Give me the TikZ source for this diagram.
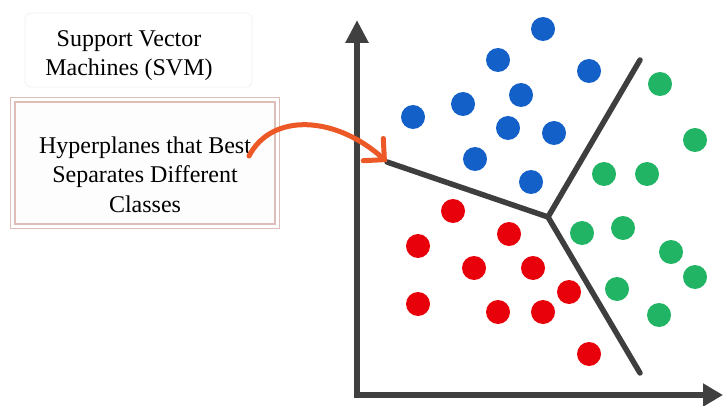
\documentclass[tikz,border=0pt]{standalone}
\usepackage{fontspec}
\setmainfont{Liberation Serif}
\usetikzlibrary{arrows.meta}

\definecolor{axisgray}{RGB}{64,64,64}
\definecolor{planegray}{RGB}{62,62,62}
\definecolor{dotblue}{RGB}{18,96,200}
\definecolor{dotred}{RGB}{232,0,10}
\definecolor{dotgreen}{RGB}{32,180,100}
\definecolor{pointer}{RGB}{236,88,38}
\definecolor{frameline}{RGB}{222,190,184}
\definecolor{framefill}{RGB}{254,253,253}
\definecolor{softedge}{RGB}{240,240,240}

\tikzset{
  dot/.style={circle, minimum size=24pt, inner sep=0pt},
  bluedot/.style={dot, fill=dotblue},
  reddot/.style={dot, fill=dotred},
  greendot/.style={dot, fill=dotgreen},
  label text/.style={font=\fontsize{24}{29.5}\selectfont, align=center, inner sep=0pt},
  axis/.style={draw=axisgray, line width=6.5pt,
    {Triangle[length=23pt,width=22pt]}-{Triangle[length=20pt,width=22pt]}},
  plane/.style={draw=planegray, line width=5.5pt, line cap=round},
  pointer arrow/.style={draw=pointer, line width=5pt, line cap=round,
    -{Straight Barb[length=15pt,width=30pt,line cap=round]}},
  frame/.style={draw=frameline, line width=1.2pt},
}

\begin{document}
\begin{tikzpicture}[x=1pt, y=-1pt]
  \useasboundingbox (0,0) rectangle (725,406);

  % title box
  \node[draw=softedge, line width=0.8pt, rounded corners=6pt,
        minimum width=227pt, minimum height=74pt] (titlebox) at (138.5,50) {};
  \node[label text] (title) at (129,55.5) {Support Vector\\Machines (SVM)};

  % double framed caption box
  \node[frame, fill=framefill, minimum width=260pt, minimum height=122pt,
        inner sep=0pt] (hypbox) at (145,163) {};
  \draw[frame] ([shift={(-4,-4)}]hypbox.north west) rectangle ([shift={(4,4)}]hypbox.south east);
  \node[label text] (hyp) at (145,174.5) {Hyperplanes that Best\\Separates Different\\Classes};

  % axes
  \coordinate (ytop) at (357,20);
  \coordinate (origin) at (357,395);
  \coordinate (xend) at (723,395);
  \draw[axis] (ytop) -- (origin) -- (xend);

  % separating hyperplanes
  \coordinate (h1) at (387,162);
  \coordinate (J) at (548,217);
  \coordinate (h2) at (640,60);
  \coordinate (h3) at (640,373);
  \draw[plane] (h1) -- (J) -- (h2);
  \draw[plane] (J) -- (h3);

  % class points
  \foreach \px/\py [count=\i] in {543/29, 498/60, 589/71, 521/95, 463/104,
      413/117, 508/128, 554/133, 475/159, 531/182}
    \node[bluedot] (b\i) at (\px,\py) {};
  \foreach \px/\py [count=\i] in {660/84, 695/140, 604/174, 647/174, 582/233,
      623/228, 671/252, 695/277, 617/289, 659/315}
    \node[greendot] (g\i) at (\px,\py) {};
  \foreach \px/\py [count=\i] in {453/211, 509/234, 418/246, 474/268, 533/268,
      569/292, 418/304, 498/312, 543/312, 589/354}
    \node[reddot] (r\i) at (\px,\py) {};

  % pointer from caption to hyperplane
  \coordinate (a0) at (249,156);
  \draw[pointer arrow] (a0) .. controls (272,112) and (336,116) .. (h1);
\end{tikzpicture}
\end{document}
